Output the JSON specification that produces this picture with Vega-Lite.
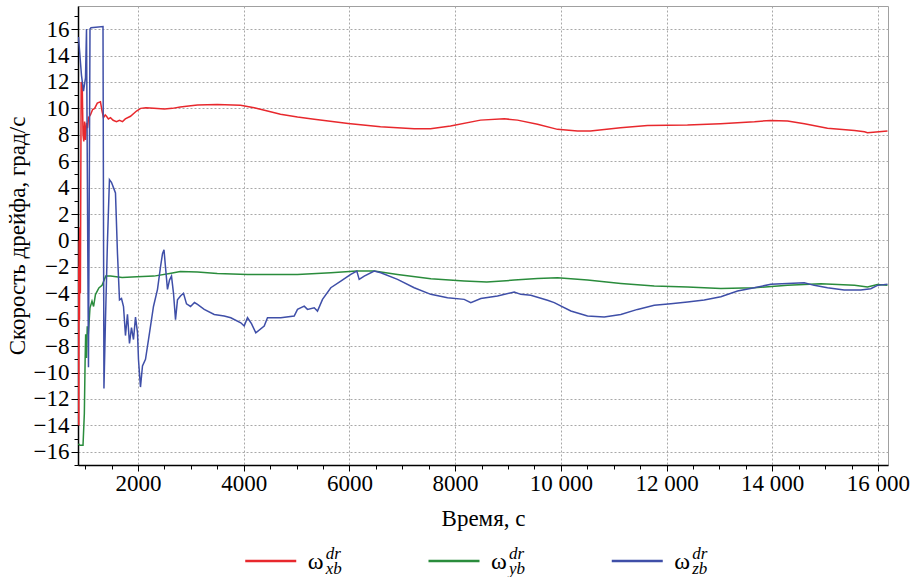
{
  "$schema": "https://vega.github.io/schema/vega-lite/v6.json",
  "padding": {"left": 5, "top": 5, "right": 0, "bottom": 0},
  "background": "white",
  "spacing": 84,
  "bounds": "flush",
  "config": {
    "axis": {
      "labelColor": "black",
      "titleFontSize": 23, "titleFontWeight": "normal", "titleColor": "black",
      "domainColor": "black", "domainWidth": 1.5, "tickColor": "black", "tickWidth": 1,
      "gridColor": "#a8a8a8", "gridDash": [2, 2], "gridWidth": 1,
      "labelOverlap": false, "labelBound": false, "labelFlush": false
    }
  },
  "vconcat": [
    {
      "width": 810,
      "height": 459,
      "view": {"stroke": "#a0a0a0", "strokeWidth": 1},
      "data": {"values": [
        {"s":"xb","t":874,"v":-2},{"s":"xb","t":880,"v":-14},{"s":"xb","t":886,"v":0},{"s":"xb","t":893,"v":-6},{"s":"xb","t":900,"v":1},{"s":"xb","t":910,"v":-4},{"s":"xb","t":925,"v":12},{"s":"xb","t":945,"v":11.8},{"s":"xb","t":960,"v":8},{"s":"xb","t":975,"v":7.5},{"s":"xb","t":990,"v":9},{"s":"xb","t":1007,"v":7.6},{"s":"xb","t":1026,"v":8.9},{"s":"xb","t":1045,"v":8.5},{"s":"xb","t":1065,"v":9.3},{"s":"xb","t":1100,"v":9.5},{"s":"xb","t":1140,"v":9.9},{"s":"xb","t":1180,"v":10.0},{"s":"xb","t":1230,"v":10.4},{"s":"xb","t":1290,"v":10.5},{"s":"xb","t":1320,"v":9.8},{"s":"xb","t":1347,"v":9.3},{"s":"xb","t":1380,"v":9.5},{"s":"xb","t":1404,"v":9.4},{"s":"xb","t":1440,"v":9.2},{"s":"xb","t":1480,"v":9.3},{"s":"xb","t":1530,"v":9.1},{"s":"xb","t":1593,"v":9.0},{"s":"xb","t":1650,"v":9.1},{"s":"xb","t":1707,"v":9.0},{"s":"xb","t":1760,"v":9.2},{"s":"xb","t":1858,"v":9.4},{"s":"xb","t":1972,"v":9.8},{"s":"xb","t":2050,"v":10.0},{"s":"xb","t":2150,"v":10.05},{"s":"xb","t":2300,"v":10.0},{"s":"xb","t":2500,"v":9.95},{"s":"xb","t":2650,"v":10.0},{"s":"xb","t":2800,"v":10.1},{"s":"xb","t":3000,"v":10.2},{"s":"xb","t":3126,"v":10.25},{"s":"xb","t":3500,"v":10.3},{"s":"xb","t":3939,"v":10.23},{"s":"xb","t":4199,"v":10.05},{"s":"xb","t":4450,"v":9.8},{"s":"xb","t":4696,"v":9.55},{"s":"xb","t":5018,"v":9.34},{"s":"xb","t":5334,"v":9.17},{"s":"xb","t":5977,"v":8.86},{"s":"xb","t":6588,"v":8.6},{"s":"xb","t":7226,"v":8.46},{"s":"xb","t":7534,"v":8.46},{"s":"xb","t":7913,"v":8.66},{"s":"xb","t":8480,"v":9.11},{"s":"xb","t":8929,"v":9.21},{"s":"xb","t":9180,"v":9.11},{"s":"xb","t":9559,"v":8.8},{"s":"xb","t":9937,"v":8.41},{"s":"xb","t":10315,"v":8.28},{"s":"xb","t":10561,"v":8.28},{"s":"xb","t":11129,"v":8.53},{"s":"xb","t":11640,"v":8.71},{"s":"xb","t":12396,"v":8.74},{"s":"xb","t":13021,"v":8.84},{"s":"xb","t":13664,"v":8.99},{"s":"xb","t":13967,"v":9.09},{"s":"xb","t":14289,"v":9.04},{"s":"xb","t":14610,"v":8.84},{"s":"xb","t":15045,"v":8.49},{"s":"xb","t":15556,"v":8.33},{"s":"xb","t":15745,"v":8.23},{"s":"xb","t":15802,"v":8.16},{"s":"xb","t":16180,"v":8.28},
        {"s":"yb","t":874,"v":-15.4},{"s":"yb","t":900,"v":-15.5},{"s":"yb","t":960,"v":-15.5},{"s":"yb","t":985,"v":-13.1},{"s":"yb","t":1000,"v":-9},{"s":"yb","t":1010,"v":-7.1},{"s":"yb","t":1026,"v":-8.9},{"s":"yb","t":1040,"v":-6.5},{"s":"yb","t":1060,"v":-7.1},{"s":"yb","t":1092,"v":-5.1},{"s":"yb","t":1130,"v":-4.6},{"s":"yb","t":1160,"v":-5.0},{"s":"yb","t":1195,"v":-4.1},{"s":"yb","t":1260,"v":-3.6},{"s":"yb","t":1320,"v":-3.4},{"s":"yb","t":1390,"v":-2.7},{"s":"yb","t":1480,"v":-2.7},{"s":"yb","t":1700,"v":-2.8},{"s":"yb","t":1980,"v":-2.75},{"s":"yb","t":2300,"v":-2.7},{"s":"yb","t":2600,"v":-2.5},{"s":"yb","t":2800,"v":-2.35},{"s":"yb","t":3126,"v":-2.39},{"s":"yb","t":3500,"v":-2.5},{"s":"yb","t":4072,"v":-2.57},{"s":"yb","t":5018,"v":-2.57},{"s":"yb","t":5648,"v":-2.44},{"s":"yb","t":6140,"v":-2.32},{"s":"yb","t":6469,"v":-2.32},{"s":"yb","t":6910,"v":-2.57},{"s":"yb","t":7540,"v":-2.9},{"s":"yb","t":8172,"v":-3.07},{"s":"yb","t":8600,"v":-3.15},{"s":"yb","t":9118,"v":-3.0},{"s":"yb","t":9559,"v":-2.88},{"s":"yb","t":9937,"v":-2.82},{"s":"yb","t":10505,"v":-3.0},{"s":"yb","t":11135,"v":-3.25},{"s":"yb","t":11767,"v":-3.45},{"s":"yb","t":12397,"v":-3.53},{"s":"yb","t":13027,"v":-3.63},{"s":"yb","t":13659,"v":-3.58},{"s":"yb","t":14289,"v":-3.4},{"s":"yb","t":14920,"v":-3.28},{"s":"yb","t":15556,"v":-3.4},{"s":"yb","t":15802,"v":-3.53},{"s":"yb","t":15991,"v":-3.33},{"s":"yb","t":16180,"v":-3.4},
        {"s":"zb","t":874,"v":15.4},{"s":"zb","t":931,"v":12.5},{"s":"zb","t":969,"v":11.3},{"s":"zb","t":1007,"v":12.3},{"s":"zb","t":1026,"v":16.0},{"s":"zb","t":1063,"v":-9.6},{"s":"zb","t":1092,"v":16.0},{"s":"zb","t":1111,"v":16.1},{"s":"zb","t":1338,"v":16.2},{"s":"zb","t":1356,"v":-11.2},{"s":"zb","t":1385,"v":-6},{"s":"zb","t":1423,"v":0},{"s":"zb","t":1460,"v":4.6},{"s":"zb","t":1498,"v":4.4},{"s":"zb","t":1536,"v":4.0},{"s":"zb","t":1574,"v":3.6},{"s":"zb","t":1612,"v":-1.0},{"s":"zb","t":1650,"v":-4.5},{"s":"zb","t":1688,"v":-4.4},{"s":"zb","t":1726,"v":-5.0},{"s":"zb","t":1763,"v":-7.2},{"s":"zb","t":1801,"v":-5.6},{"s":"zb","t":1839,"v":-7.8},{"s":"zb","t":1877,"v":-6.6},{"s":"zb","t":1915,"v":-7.5},{"s":"zb","t":1953,"v":-5.8},{"s":"zb","t":1991,"v":-7.0},{"s":"zb","t":2009,"v":-9.0},{"s":"zb","t":2047,"v":-11.1},{"s":"zb","t":2085,"v":-9.5},{"s":"zb","t":2142,"v":-9.0},{"s":"zb","t":2218,"v":-7.0},{"s":"zb","t":2293,"v":-5.0},{"s":"zb","t":2369,"v":-3.7},{"s":"zb","t":2426,"v":-2.0},{"s":"zb","t":2464,"v":-1.0},{"s":"zb","t":2492,"v":-0.7},{"s":"zb","t":2520,"v":-2.0},{"s":"zb","t":2558,"v":-3.7},{"s":"zb","t":2596,"v":-3.0},{"s":"zb","t":2634,"v":-2.7},{"s":"zb","t":2672,"v":-4.0},{"s":"zb","t":2710,"v":-6.0},{"s":"zb","t":2747,"v":-4.5},{"s":"zb","t":2804,"v":-4.2},{"s":"zb","t":2861,"v":-4.0},{"s":"zb","t":2918,"v":-4.8},{"s":"zb","t":2994,"v":-5.0},{"s":"zb","t":3069,"v":-4.7},{"s":"zb","t":3126,"v":-4.84},{"s":"zb","t":3253,"v":-5.22},{"s":"zb","t":3442,"v":-5.6},{"s":"zb","t":3631,"v":-5.72},{"s":"zb","t":3756,"v":-5.85},{"s":"zb","t":3945,"v":-6.23},{"s":"zb","t":4009,"v":-6.48},{"s":"zb","t":4072,"v":-5.85},{"s":"zb","t":4147,"v":-6.3},{"s":"zb","t":4229,"v":-6.99},{"s":"zb","t":4388,"v":-6.48},{"s":"zb","t":4450,"v":-5.85},{"s":"zb","t":4702,"v":-5.85},{"s":"zb","t":4955,"v":-5.72},{"s":"zb","t":5018,"v":-5.22},{"s":"zb","t":5145,"v":-4.97},{"s":"zb","t":5207,"v":-5.22},{"s":"zb","t":5334,"v":-5.1},{"s":"zb","t":5396,"v":-5.35},{"s":"zb","t":5491,"v":-4.46},{"s":"zb","t":5648,"v":-3.58},{"s":"zb","t":5837,"v":-3.07},{"s":"zb","t":6026,"v":-2.57},{"s":"zb","t":6140,"v":-2.32},{"s":"zb","t":6185,"v":-2.95},{"s":"zb","t":6280,"v":-2.7},{"s":"zb","t":6469,"v":-2.32},{"s":"zb","t":6594,"v":-2.44},{"s":"zb","t":6910,"v":-2.95},{"s":"zb","t":7226,"v":-3.58},{"s":"zb","t":7540,"v":-4.08},{"s":"zb","t":7856,"v":-4.33},{"s":"zb","t":8172,"v":-4.46},{"s":"zb","t":8297,"v":-4.71},{"s":"zb","t":8486,"v":-4.4},{"s":"zb","t":8802,"v":-4.21},{"s":"zb","t":9118,"v":-3.9},{"s":"zb","t":9243,"v":-4.08},{"s":"zb","t":9432,"v":-4.15},{"s":"zb","t":9748,"v":-4.53},{"s":"zb","t":9875,"v":-4.71},{"s":"zb","t":10189,"v":-5.34},{"s":"zb","t":10505,"v":-5.72},{"s":"zb","t":10821,"v":-5.8},{"s":"zb","t":11135,"v":-5.6},{"s":"zb","t":11451,"v":-5.22},{"s":"zb","t":11767,"v":-4.91},{"s":"zb","t":12081,"v":-4.79},{"s":"zb","t":12397,"v":-4.66},{"s":"zb","t":12713,"v":-4.51},{"s":"zb","t":13027,"v":-4.26},{"s":"zb","t":13343,"v":-3.83},{"s":"zb","t":13659,"v":-3.58},{"s":"zb","t":13973,"v":-3.32},{"s":"zb","t":14289,"v":-3.25},{"s":"zb","t":14605,"v":-3.2},{"s":"zb","t":14794,"v":-3.4},{"s":"zb","t":15045,"v":-3.58},{"s":"zb","t":15361,"v":-3.75},{"s":"zb","t":15675,"v":-3.75},{"s":"zb","t":15864,"v":-3.65},{"s":"zb","t":15991,"v":-3.4},{"s":"zb","t":16180,"v":-3.32}
      ]},
      "mark": {"type": "line", "strokeWidth": 1.5, "clip": true},
      "encoding": {
        "x": {
          "field": "t", "type": "quantitative",
          "scale": {"domain": [865, 16190], "nice": false, "zero": false},
          "axis": {
            "title": "Время, с",
            "titleFont": "serif",
            "labelFont": "serif",
            "labelFontSize": 23,
            "values": [1000,1500,2000,2500,3000,3500,4000,4500,5000,5500,6000,6500,7000,7500,8000,8500,9000,9500,10000,10500,11000,11500,12000,12500,13000,13500,14000,14500,15000,15500,16000],
            "labelExpr": "datum.value % 2000 !== 0 ? '' : (datum.value >= 10000 ? replace(format(datum.value, ','), ',', ' ') : format(datum.value, 'd'))",
            "tickSize": {"condition": {"test": "datum.value % 2000 === 0", "value": 6}, "value": 4},
            "gridOpacity": {"condition": {"test": "datum.value % 2000 === 0", "value": 1}, "value": 0},
            "labelPadding": 1,
            "titlePadding": 12
          }
        },
        "y": {
          "field": "v", "type": "quantitative",
          "scale": {"domain": [-17, 17.75], "nice": false, "zero": false},
          "axis": {
            "title": "Скорость дрейфа, град/с",
            "titleFont": "serif",
            "labelFont": "serif",
            "format": "d",
            "values": [-17,-16.5,-16,-15.5,-15,-14.5,-14,-13.5,-13,-12.5,-12,-11.5,-11,-10.5,-10,-9.5,-9,-8.5,-8,-7.5,-7,-6.5,-6,-5.5,-5,-4.5,-4,-3.5,-3,-2.5,-2,-1.5,-1,-0.5,0,0.5,1,1.5,2,2.5,3,3.5,4,4.5,5,5.5,6,6.5,7,7.5,8,8.5,9,9.5,10,10.5,11,11.5,12,12.5,13,13.5,14,14.5,15,15.5,16,16.5,17,17.5],
            "labelFontSize": {"condition": {"test": "datum.value % 2 === 0", "value": 23}, "value": 0},
            "labelOpacity": {"condition": {"test": "datum.value % 2 === 0", "value": 1}, "value": 0},
            "tickSize": {"condition": {"test": "datum.value % 2 === 0", "value": 7}, "value": 4},
            "gridOpacity": {"condition": {"test": "datum.value % 2 === 0", "value": 1}, "value": 0},
            "labelPadding": 2,
            "titlePadding": 4
          }
        },
        "color": {
          "field": "s", "type": "nominal",
          "scale": {"domain": ["xb", "yb", "zb"], "range": ["#e8282d", "#2a8c3c", "#3f4fa8"]},
          "legend": null
        }
      }
    },
    {
      "width": 810,
      "height": 24,
      "view": {"stroke": null},
      "data": {"values": [{"s": "xb"}, {"s": "yb"}, {"s": "zb"}]},
      "encoding": {
        "x": {"field": "s", "type": "nominal", "scale": {"type": "point", "domain": ["l", "xb", "yb", "zb", "r"], "padding": 0.21}, "axis": null}
      },
      "layer": [
        {
          "mark": {"type": "point", "shape": "stroke", "size": 2601, "strokeWidth": 2.5, "opacity": 1, "xOffset": -29},
          "encoding": {"color": {"field": "s", "type": "nominal", "scale": {"domain": ["xb", "yb", "zb"], "range": ["#e8282d", "#2a8c3c", "#3f4fa8"]}, "legend": null}}
        },
        {
          "mark": {"type": "text", "text": "ω", "font": "serif", "fontSize": 24, "xOffset": 16, "baseline": "alphabetic", "yOffset": 8, "color": "black"}
        },
        {
          "mark": {"type": "text", "text": "dr", "font": "serif", "fontSize": 17, "fontStyle": "italic", "align": "left", "xOffset": 26, "baseline": "alphabetic", "yOffset": -2, "color": "black"}
        },
        {
          "mark": {"type": "text", "font": "serif", "fontSize": 17, "fontStyle": "italic", "align": "left", "xOffset": 26, "baseline": "alphabetic", "yOffset": 13, "color": "black"},
          "encoding": {"text": {"field": "s", "type": "nominal"}}
        }
      ]
    }
  ]
}
